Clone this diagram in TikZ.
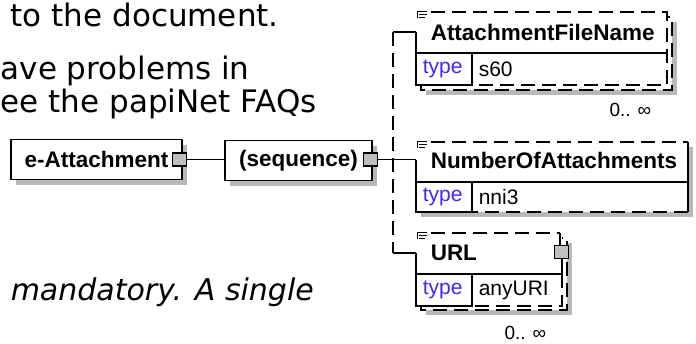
\documentclass[tikz,border=0pt]{standalone}
\usepackage{fontspec}
\setmainfont{Liberation Sans}
\newfontfamily\docfont{DejaVu Sans}
\usetikzlibrary{positioning,shadows}
\definecolor{typeblue}{RGB}{60,40,255}

\begin{document}
\begin{tikzpicture}[x=1pt,y=-1pt,line width=1.5pt,
    box/.style={draw, fill=white, inner sep=0pt, font=\fontsize{22.5}{26}\selectfont\bfseries},
    shadowed/.style={drop shadow={shadow xshift=5pt, shadow yshift=-5pt, fill=black!28, opacity=1}},
    dsh/.style={dash pattern=on 14pt off 7pt},
    plug/.style={draw, fill=black!25, minimum width=14pt, minimum height=13pt, inner sep=0pt},
    shade/.style={fill=black!28, draw=none},
    iconline/.style={line width=0.9pt},
    elname/.style={font=\fontsize{22.5}{26}\selectfont\bfseries, inner sep=0pt, anchor=west},
    typelbl/.style={font=\fontsize{21}{24}\selectfont, text=typeblue, inner sep=0pt, anchor=west},
    typeval/.style={font=\fontsize{21}{24}\selectfont, inner sep=0pt, anchor=west},
    occur/.style={font=\fontsize{19}{22}\selectfont, inner sep=0pt, anchor=east},
    doctext/.style={font=\docfont\fontsize{31}{36}\selectfont, inner sep=0pt, anchor=base west}]

        \useasboundingbox (0,0) rectangle (696,343);

        % text of the page behind the diagram
        \node[doctext] (line1) at (10,26) {to the document.};
        \node[doctext] (line2) at (0,79) {ave problems in};
        \node[doctext] (line3) at (0,112) {ee the papiNet FAQs};
        \node[doctext, font=\docfont\itshape\fontsize{30}{36}\selectfont] (line4) at (10,300) {mandatory. A single};

        % root and sequence
        \node[box, shadowed, minimum width=171pt, minimum height=40pt] (root) at (96.5,159.5) {e-Attachment};
        \node[plug] (rootplug) at (179.5,159.5) {};
        \node[box, shadowed, minimum width=147pt, minimum height=40pt] (seq) at (298.5,160.5) {(sequence)};
        \node[plug] (seqplug) at (370.5,159.5) {};
        \draw (rootplug.east) -- (rootplug.east -| seq.west);

        \coordinate (bustop) at (393,32);
        \coordinate (busbot) at (393,253);
        \coordinate (afnin) at (416,32);
        \coordinate (noain) at (416,159.5);
        \coordinate (urlin) at (416,253);
        \draw[dsh] (bustop) -- (busbot);
        \draw (bustop) -- (afnin);
        \draw (seqplug.east) -- (noain);
        \draw (busbot) -- (urlin);

        % AttachmentFileName
        \fill[shade] (426,22) rectangle (677,95);
        \filldraw[fill=white, dsh] (421,17) rectangle (672,90);
        \fill[white] (416,12) rectangle (667,85);
        \draw[dsh] (431,12) -- (667,12) -- (667,85) -- (472,85);
        \draw (afnin) -- (416,85) -- (472,85) -- (472,53);
        \draw (416,53) -- (667,53);
        \draw[iconline] (417,11) -- (427,11) (417,11) -- (417,18) (419,14) -- (427,14) (419,17) -- (425,17);
        \node[elname] (afnname) at (430,32) {AttachmentFileName};
        \node[typelbl] (afntype) at (422,69) {type};
        \node[typeval] (afnval) at (478,69) {s60};
        \node[occur] (afnocc) at (652,110) {0.. ∞};

        % NumberOfAttachments
        \fill[shade] (421,147) rectangle (693,217);
        \fill[white] (416,142) rectangle (688,212);
        \draw[dsh] (431,142) -- (688,142);
        \draw (688,142) -- (688,212);
        \draw[dsh] (688,212) -- (472,212);
        \draw (noain) -- (416,212) -- (472,212) -- (472,182);
        \draw (416,182) -- (688,182);
        \draw[iconline] (417,141) -- (427,141) (417,141) -- (417,148) (419,144) -- (427,144) (419,147) -- (425,147);
        \node[elname] (noaname) at (430,160) {NumberOfAttachments};
        \node[typelbl] (noatype) at (422,197) {type};
        \node[typeval] (noaval) at (478,197) {nni3};

        % URL
        \fill[shade] (426,243) rectangle (572,315);
        \filldraw[fill=white, dsh] (421,238) rectangle (567,310);
        \fill[white] (416,233) rectangle (562,306);
        \draw[dsh] (431,233) -- (560,233);
        \draw (560,233) -- (560,246);
        \draw (562,259) -- (562,274);
        \draw[dsh] (562,274) -- (562,306) -- (472,306);
        \draw (urlin) -- (416,306) -- (472,306) -- (472,274);
        \draw (416,274) -- (562,274);
        \draw[iconline] (417,232) -- (427,232) (417,232) -- (417,239) (419,235) -- (427,235) (419,238) -- (425,238);
        \node[plug] (urlplug) at (561.5,252) {};
        \node[elname] (urlname) at (430,253) {URL};
        \node[typelbl] (urltype) at (422,290) {type};
        \node[typeval] (urlval) at (478,290) {anyURI};
        \node[occur] (urlocc) at (547,333) {0.. ∞};

\end{tikzpicture}
\end{document}
